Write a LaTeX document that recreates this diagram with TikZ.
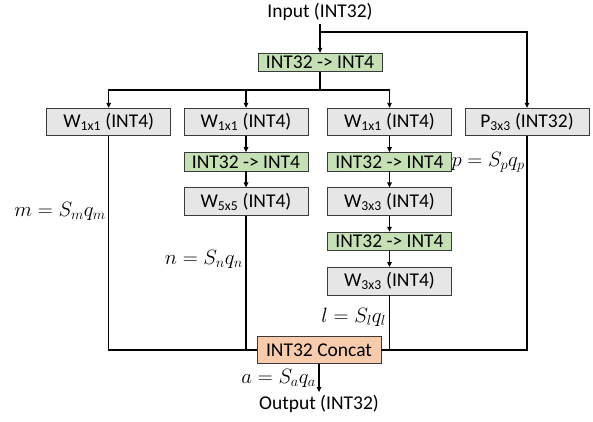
\documentclass[tikz,border=0pt]{standalone}
\usepackage{fontspec}
\setmainfont{Carlito}
\usetikzlibrary{arrows.meta, positioning}

\definecolor{boxgray}{HTML}{E7E6E6}
\definecolor{edgegray}{HTML}{3A3A3A}
\definecolor{quantgreen}{HTML}{C5E0B4}
\definecolor{concatorange}{HTML}{F8CBAD}

\begin{document}
\begin{tikzpicture}
                [x=1pt, y=1pt,
                font=\fontsize{19.5}{23}\selectfont,
                node distance=16pt,
                block/.style={
                    rectangle,
                    draw=edgegray,
                    fill=boxgray,
                    line width=0.8pt,
                    inner sep=0pt,
                    minimum width=124pt,
                    minimum height=27.5pt
                },
                quant/.style={block, fill=quantgreen, minimum height=18.5pt},
                concat/.style={block, fill=concatorange, minimum height=26.5pt},
                line/.style={
                    draw, line width=1.1pt, -{Triangle[length=5pt,width=4.5pt]}
                },
                link/.style={
                    draw, line width=1.1pt
                },
                eq/.style={anchor=east, inner sep=1pt, font=\fontsize{21}{24}\selectfont}
                ]

                \useasboundingbox (0,0) rectangle (593,-421);

                % Input and first quantisation
                \node[inner sep=3pt] (input) at (320,-12) {Input (INT32)};
                \node[quant] (q0) at (320,-62.5) {INT32 -> INT4};
                \coordinate (tap) at (320,-32);
                \coordinate (fork) at (320,-90);

                % First row of the four branches
                \node[block] (b1) at (108.7,-122) {W\textsubscript{1x1} (INT4)};
                \node[block] (b2) at (246,-122) {W\textsubscript{1x1} (INT4)};
                \node[block] (b3) at (389.5,-122) {W\textsubscript{1x1} (INT4)};
                \node[block] (pool) at (527,-122) {P\textsubscript{3x3} (INT32)};

                % Branch 2
                \node[quant, below=of b2] (b2q) {INT32 -> INT4};
                \node[block, below=of b2q] (b2w) {W\textsubscript{5x5} (INT4)};

                % Branch 3
                \node[quant, below=of b3] (b3q1) {INT32 -> INT4};
                \node[block, below=of b3q1] (b3w1) {W\textsubscript{3x3} (INT4)};
                \node[quant, below=of b3w1] (b3q2) {INT32 -> INT4};
                \node[block, below=of b3q2] (b3w2) {W\textsubscript{3x3} (INT4)};

                % Concat and output
                \node[concat] (concat) at (319,-350) {INT32 Concat};
                \node[inner sep=3pt] (output) at (319,-404) {Output (INT32)};

                % Edges
                \path [line] (input) -- (q0);
                \path [line] (tap) -| (pool);
                \path [link] (q0) -- (fork);
                \foreach \b in {b1, b2, b3}{
                    \path [line] (fork) -| (\b);
                }
                \foreach \a/\b in {b2/b2q, b2q/b2w, b3/b3q1, b3q1/b3w1, b3w1/b3q2, b3q2/b3w2}{
                    \path [line] (\a) -- (\b);
                }
                \foreach \b in {b1, b2w, b3w2, pool}{
                    \path [link] (\b) |- (concat);
                }
                \path [line] (concat) -- (output);

                % Scale factors
                \node[eq] (eqm) at (107,-211) {$m=S_mq_m$};
                \node[eq] (eqn) at (244,-259) {$n=S_nq_n$};
                \node[eq] (eqp) at (526,-162) {$p=S_pq_p$};
                \node[eq] (eql) at (387,-317) {$l=S_lq_l$};
                \node[eq] (eqa) at (317,-378) {$a=S_aq_a$};
            \end{tikzpicture}
\end{document}
